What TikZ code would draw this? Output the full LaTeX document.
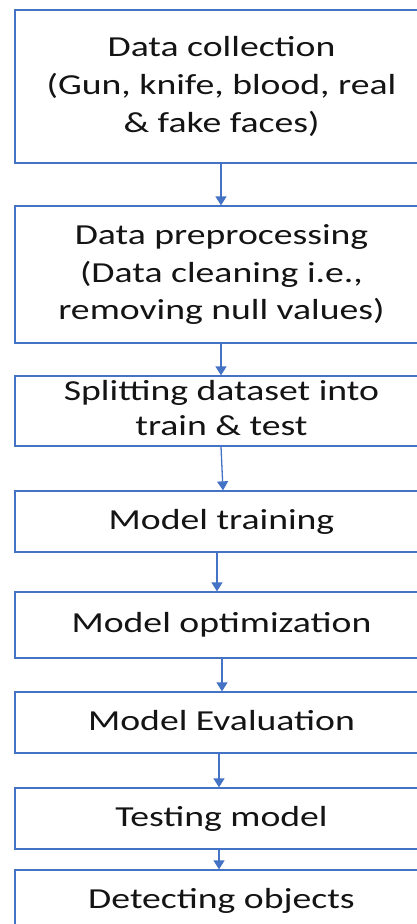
\documentclass[tikz,border=0pt]{standalone}
\usepackage{fontspec}
\setmainfont{Carlito}
\usetikzlibrary{arrows.meta}
\definecolor{ofblue}{HTML}{4472C4}
\definecolor{txt}{HTML}{141414}
\newcommand\bxt[2][-3pt]{\raisebox{#1}{\scalebox{1.3}[1]{\begin{tabular}{@{}c@{}}#2\end{tabular}}}}
\tikzset{
  stepbox/.style={draw=ofblue, line width=1.3pt, inner sep=0pt, minimum width=413pt,
    text=txt, font=\fontsize{29}{38}\selectfont},
  arr/.style={draw=ofblue, line width=1.3pt, -{Triangle[width=11pt,length=9pt]}}
}
\begin{document}
\begin{tikzpicture}[x=1pt,y=-1pt]
\clip (0,0) rectangle (417,924);
\fill[white] (0,0) rectangle (417,924);
\node[stepbox, minimum height=153pt] (b1) at (221.5,86.5) {\bxt{Data collection\\(Gun, knife, blood, real\\\& fake faces)}};
\node[stepbox, minimum height=137pt, font=\fontsize{29}{37.5}\selectfont] (b2) at (221.5,274.5) {\bxt{Data preprocessing\\(Data cleaning i.e.,\\removing null values)}};
\node[stepbox, minimum height=70pt, font=\fontsize{29}{35}\selectfont] (b3) at (221.5,411) {\bxt[-1.5pt]{Splitting dataset into\\train \& test}};
\node[stepbox, minimum height=61pt] (b4) at (221.5,521.5) {\bxt{Model training}};
\node[stepbox, minimum height=66pt] (b5) at (221.5,625) {\bxt{Model optimization}};
\node[stepbox, minimum height=61pt] (b6) at (221.5,722.5) {\bxt{Model Evaluation}};
\node[stepbox, minimum height=61pt] (b7) at (221.5,818.5) {\bxt{Testing model}};
\node[stepbox, minimum height=62pt] (b8) at (221.5,901) {\bxt{Detecting objects}};
\draw[arr] ([xshift=-0.5pt]b1.south) -- ([xshift=-0.5pt]b2.north);
\draw[arr] ([xshift=-0.5pt]b2.south) -- ([xshift=-0.5pt]b3.north);
\draw[arr] ([xshift=-0.5pt]b3.south) -- ([xshift=1.5pt]b4.north);
\draw[arr] ([xshift=-4.5pt]b4.south) -- ([xshift=-4.5pt]b5.north);
\draw[arr] ([xshift=0.5pt]b5.south) -- ([xshift=0.5pt]b6.north);
\draw[arr] ([xshift=-2.5pt]b6.south) -- ([xshift=-2.5pt]b7.north);
\draw[arr] ([xshift=-2.5pt]b7.south) -- ([xshift=-2.5pt]b8.north);
\end{tikzpicture}
\end{document}
